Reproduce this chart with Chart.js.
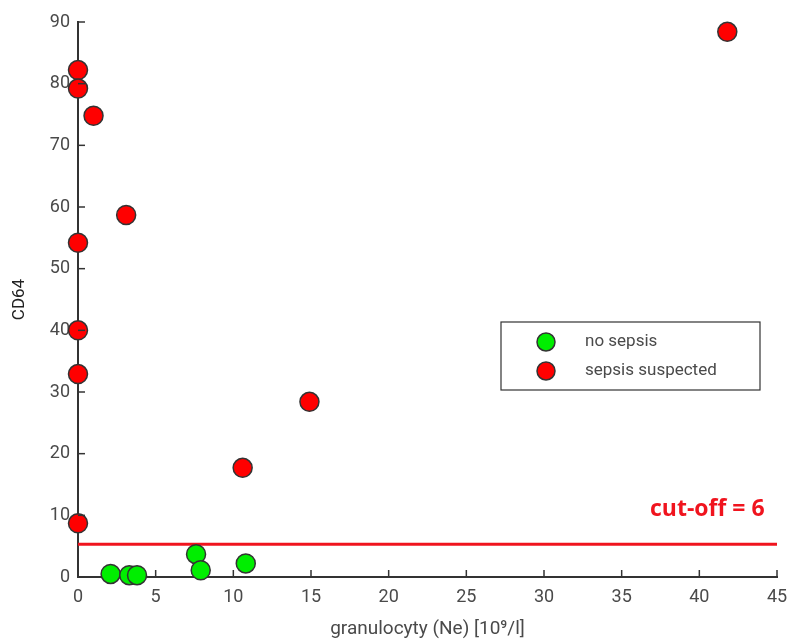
<!DOCTYPE html>
<html>
<head>
<meta charset="utf-8">
<script src="https://cdn.jsdelivr.net/npm/chart.js@4/dist/chart.umd.min.js"></script>
<style>
  html, body { margin: 0; padding: 0; background: #fff; }
  #wrap { width: 791px; height: 641px; }
</style>
</head>
<body>
<div id="wrap"><canvas id="c"></canvas></div>
<script>
// values
const noSepsisX = [2.1, 3.3, 3.8, 7.6, 7.9, 10.8];
const noSepsisY = [0.5, 0.3, 0.3, 3.7, 1.1, 2.2];
const sepsisX = [0, 0, 1.0, 3.1, 0, 0, 0, 0, 10.6, 14.9, 41.8];
const sepsisY = [82.2, 79.2, 74.8, 58.7, 54.2, 40.0, 32.9, 8.7, 17.7, 28.4, 88.4];
const cutoffX = [0, 45];
const cutoffY = [5.3, 5.3];
const cutoffText = 'cut-off = 6';
const seriesNames = ['no sepsis', 'sepsis suspected'];

const toPts = (xs, ys) => xs.map((x, i) => ({ x: x, y: ys[i] }));

const tickFont = { family: 'Roboto', size: 18 };
const textColor = '#4a4a4a';

// short tick marks drawn inward, cut-off label and the boxed legend
const extras = {
  id: 'extras',
  afterDraw(chart) {
    const ctx = chart.ctx;
    const xs = chart.scales.x, ys = chart.scales.y;
    const a = chart.chartArea;
    ctx.save();
    ctx.strokeStyle = '#333';
    ctx.lineWidth = 1.5;
    xs.ticks.forEach(t => {
      const px = xs.getPixelForValue(t.value);
      ctx.beginPath(); ctx.moveTo(px, a.bottom); ctx.lineTo(px, a.bottom - 7); ctx.stroke();
    });
    ys.ticks.forEach(t => {
      const py = ys.getPixelForValue(t.value);
      ctx.beginPath(); ctx.moveTo(a.left, py); ctx.lineTo(a.left + 7, py); ctx.stroke();
    });

    // cut-off label
    ctx.fillStyle = '#f0141e';
    ctx.font = 'bold 23px "Open Sans"';
    ctx.textAlign = 'right';
    ctx.textBaseline = 'alphabetic';
    ctx.fillText(cutoffText, xs.getPixelForValue(44.2), ys.getPixelForValue(9.9));

    // legend
    const bx = 501, by = 322, bw = 259, bh = 68;
    ctx.fillStyle = '#fff';
    ctx.fillRect(bx, by, bw, bh);
    ctx.strokeStyle = '#333';
    ctx.lineWidth = 1.2;
    ctx.strokeRect(bx, by, bw, bh);
    ctx.font = '17px Roboto';
    ctx.textAlign = 'left';
    ctx.textBaseline = 'middle';
    chart.data.datasets.slice(0, 2).forEach((ds, i) => {
      const cy = by + 20 + i * 29;
      ctx.beginPath();
      ctx.arc(bx + 45, cy, 9, 0, Math.PI * 2);
      ctx.fillStyle = ds.backgroundColor;
      ctx.fill();
      ctx.strokeStyle = '#333';
      ctx.lineWidth = 1.5;
      ctx.stroke();
      ctx.fillStyle = textColor;
      ctx.fillText(seriesNames[i], bx + 84, cy);
    });
    ctx.restore();
  }
};

new Chart(document.getElementById('c'), {
  type: 'scatter',
  data: {
    datasets: [
      {
        label: seriesNames[0],
        data: toPts(noSepsisX, noSepsisY),
        backgroundColor: '#00ee00',
        borderColor: '#333',
        borderWidth: 1.5,
        pointRadius: 9.5,
        order: 2
      },
      {
        label: seriesNames[1],
        data: toPts(sepsisX, sepsisY),
        backgroundColor: '#ff0000',
        borderColor: '#333',
        borderWidth: 1.5,
        pointRadius: 9.5,
        order: 1
      },
      {
        type: 'line',
        label: 'cut-off',
        data: toPts(cutoffX, cutoffY),
        borderColor: '#f0141e',
        borderWidth: 3,
        pointRadius: 0,
        order: 3
      }
    ]
  },
  options: {
    responsive: true,
    maintainAspectRatio: false,
    animation: false,
    clip: false,
    layout: { padding: { top: 22, right: 14, left: 0, bottom: 0 } },
    plugins: {
      legend: { display: false },
      tooltip: { enabled: false }
    },
    scales: {
      x: {
        type: 'linear',
        min: 0, max: 45,
        ticks: { stepSize: 5, color: textColor, font: tickFont, padding: 10, maxRotation: 0 },
        grid: { display: true, drawOnChartArea: false, drawTicks: false },
        border: { display: true, color: '#333', width: 2 },
        title: { display: true, text: 'granulocyty (Ne) [10⁹/l]', color: textColor, font: { family: 'Roboto', size: 19 }, padding: { top: 0, bottom: 0 } },
        afterFit(s) { s.height = 64; s.paddingLeft = 0; s.paddingRight = 0; }
      },
      y: {
        min: 0, max: 90,
        ticks: { stepSize: 10, color: textColor, font: tickFont, padding: 8 },
        grid: { display: true, drawOnChartArea: false, drawTicks: false },
        border: { display: true, color: '#333', width: 2 },
        title: { display: true, text: 'CD64', color: '#222', font: { family: 'Roboto', size: 17 }, padding: { top: 10, bottom: 12 } },
        afterFit(s) { s.width = 78; s.paddingTop = 0; s.paddingBottom = 0; }
      }
    }
  },
  plugins: [extras]
});
</script>
</body>
</html>
